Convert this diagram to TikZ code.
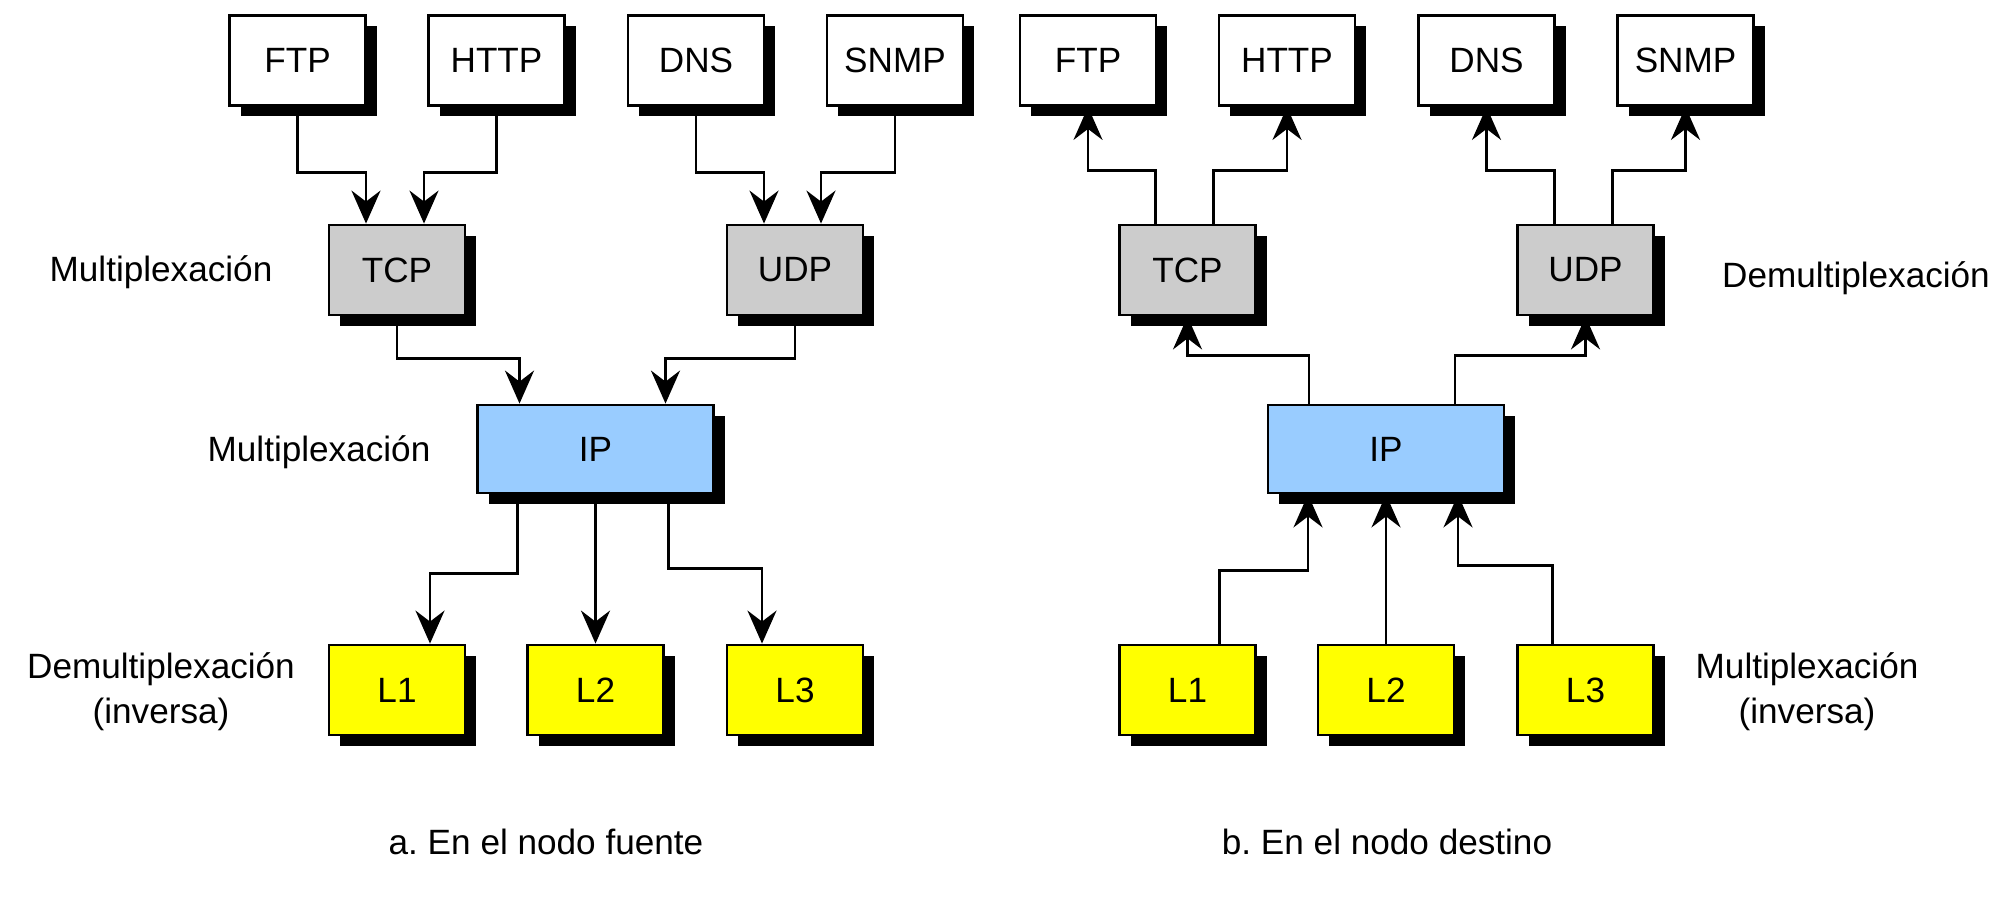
\documentclass[tikz,border=0pt]{standalone}
\usepackage{fontspec}
\setmainfont{Liberation Sans}
\usetikzlibrary{arrows.meta,shadows}
\definecolor{tcpgray}{HTML}{CCCCCC}
\definecolor{ipblue}{HTML}{99CCFF}
\definecolor{linkyellow}{HTML}{FFFF00}
\frenchspacing

\begin{document}
\begin{tikzpicture}[
  box/.style={draw, line width=0.8pt, fill=white, minimum width=1.36cm, minimum height=0.9cm, inner sep=0pt,
    drop shadow={shadow xshift=0.11cm, shadow yshift=-0.11cm, fill=black, opacity=1}},
  ipbox/.style={box, fill=ipblue, minimum width=2.36cm, minimum height=0.88cm},
  conn/.style={line width=0.8pt, -{Stealth[length=3.3mm, width=2.9mm, inset=1.1mm]}},
  lbl/.style={align=center, font=\fontsize{10}{12.8}\selectfont}
]
\useasboundingbox (0,0) rectangle (20.13,9);

\node[box] (ftpA) at (2.975,8.395) {FTP};
\node[box] (httpA) at (4.965,8.395) {HTTP};
\node[box] (dnsA) at (6.96,8.395) {DNS};
\node[box] (snmpA) at (8.95,8.395) {SNMP};
\node[box, fill=tcpgray] (tcpA) at (3.97,6.30) {TCP};
\node[box, fill=tcpgray] (udpA) at (7.95,6.30) {UDP};
\node[ipbox] (ipA) at (5.955,4.51) {IP};
\node[box, fill=linkyellow] (lA1) at (3.97,2.10) {L1};
\node[box, fill=linkyellow] (lA2) at (5.955,2.10) {L2};
\node[box, fill=linkyellow] (lA3) at (7.95,2.10) {L3};

\node[box] (ftpB) at (10.88,8.395) {FTP};
\node[box] (httpB) at (12.87,8.395) {HTTP};
\node[box] (dnsB) at (14.865,8.395) {DNS};
\node[box] (snmpB) at (16.855,8.395) {SNMP};
\node[box, fill=tcpgray] (tcpB) at (11.875,6.30) {TCP};
\node[box, fill=tcpgray] (udpB) at (15.855,6.30) {UDP};
\node[ipbox] (ipB) at (13.86,4.51) {IP};
\node[box, fill=linkyellow] (lB1) at (11.875,2.10) {L1};
\node[box, fill=linkyellow] (lB2) at (13.86,2.10) {L2};
\node[box, fill=linkyellow] (lB3) at (15.855,2.10) {L3};

\draw[conn] (ftpA.south) -- ++(0,-0.66) -| ([xshift=-0.31cm]tcpA.north);
\draw[conn] (httpA.south) -- ++(0,-0.66) -| ([xshift=0.27cm]tcpA.north);
\draw[conn] (dnsA.south) -- ++(0,-0.66) -| ([xshift=-0.31cm]udpA.north);
\draw[conn] (snmpA.south) -- ++(0,-0.66) -| ([xshift=0.26cm]udpA.north);
\draw[conn] (tcpA.south) -- ++(0,-0.42) -| ([xshift=-0.76cm]ipA.north);
\draw[conn] (udpA.south) -- ++(0,-0.42) -| ([xshift=0.70cm]ipA.north);
\draw[conn] ([xshift=-0.78cm]ipA.south) -- ++(0,-0.79) -| ([xshift=0.33cm]lA1.north);
\draw[conn] (ipA.south) -- (lA2.north);
\draw[conn] ([xshift=0.73cm]ipA.south) -- ++(0,-0.74) -| ([xshift=-0.33cm]lA3.north);

\draw[conn] ([xshift=-0.32cm]tcpB.north) -- ++(0,0.53) -| (ftpB.south);
\draw[conn] ([xshift=0.26cm]tcpB.north) -- ++(0,0.53) -| (httpB.south);
\draw[conn] ([xshift=-0.31cm]udpB.north) -- ++(0,0.53) -| (dnsB.south);
\draw[conn] ([xshift=0.27cm]udpB.north) -- ++(0,0.53) -| (snmpB.south);
\draw[conn] ([xshift=-0.77cm]ipB.north) -- ++(0,0.48) -| (tcpB.south);
\draw[conn] ([xshift=0.69cm]ipB.north) -- ++(0,0.48) -| (udpB.south);
\draw[conn] ([xshift=0.32cm]lB1.north) -- ++(0,0.73) -| ([xshift=-0.78cm]ipB.south);
\draw[conn] (lB2.north) -- (ipB.south);
\draw[conn] ([xshift=-0.33cm]lB3.north) -- ++(0,0.78) -| ([xshift=0.72cm]ipB.south);

\node[lbl] (muxTcpA) at (1.61,6.28) {Multiplexación};
\node[lbl] (muxIpA) at (3.19,4.48) {Multiplexación};
\node[lbl] (demuxLA) at (1.61,2.08) {Demultiplexación\\(inversa)};
\node[lbl] (capA) at (5.46,0.58) {a. En el nodo fuente};

\node[lbl] (demuxUdpB) at (18.56,6.22) {Demultiplexación};
\node[lbl] (muxLB) at (18.07,2.08) {Multiplexación\\(inversa)};
\node[lbl] (capB) at (13.87,0.58) {b. En el nodo destino};

\end{tikzpicture}
\end{document}
